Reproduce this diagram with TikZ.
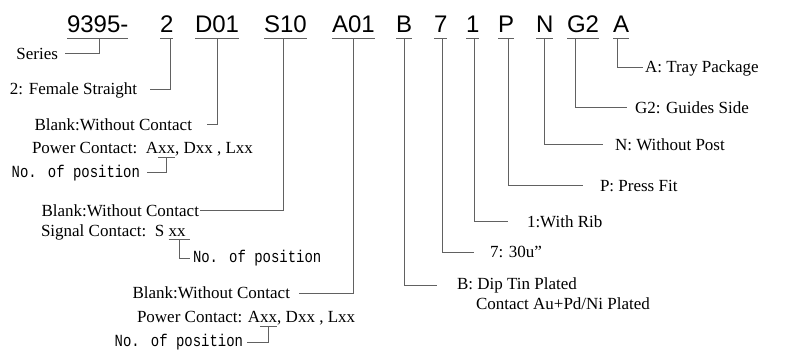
\documentclass[tikz,border=0pt]{standalone}
\usepackage{fontspec}
\usepackage{graphicx}
\setmainfont{Liberation Serif}
\newfontfamily\codefont{Liberation Sans}
\newfontfamily\posfont{Liberation Mono}
\newcommand\nopos{\scalebox{0.82}[1]{\posfont\fontsize{17}{20}\selectfont No. of position}}
\begin{document}
\begin{tikzpicture}[x=1pt,y=-1pt,
  code/.style={font=\codefont\fontsize{24}{28}\selectfont, anchor=base west, inner sep=0pt, outer sep=0pt},
  lbl/.style={font=\fontsize{17}{20}\selectfont, inner sep=0pt, outer sep=0pt},
  conn/.style={draw=black!62, line width=1pt},
  uline/.style={draw=black!62, line width=1pt}]
\useasboundingbox (0,0) rectangle (787,358);
% codes
\node[code] (c1) at (67,33) {9395-};
\node[code] (c2) at (160,33) {2};
\node[code] (c3) at (195,33) {D01};
\node[code] (c4) at (264,33) {S10};
\node[code] (c5) at (332,33) {A01};
\node[code] (c6) at (396,33) {B};
\node[code] (c7) at (434,33) {7};
\node[code] (c8) at (466,33) {1};
\node[code] (c9) at (498,33) {P};
\node[code] (c10) at (536,33) {N};
\node[code] (c11) at (567,33) {G2};
\node[code] (c12) at (613,33) {A};
\foreach \c in {c1,c2,c3,c4,c5,c6,c7,c8,c9,c10,c11,c12}
  \draw[uline] ([yshift=-6pt]\c.base west) -- ([yshift=-6pt]\c.base east);
% tap points on the underlines
\coordinate (t1) at (99,39);
\coordinate (t2) at (170,39);
\coordinate (t3) at (217,39);
\coordinate (t4) at (283,39);
\coordinate (t5) at (353,39);
\coordinate (t6) at (404,39);
\coordinate (t7) at (442,39);
\coordinate (t8) at (474,39);
\coordinate (t9) at (508,39);
\coordinate (t10) at (544,39);
\coordinate (t11) at (575,39);
\coordinate (t12) at (617,39);
% left-side labels
\node[lbl, anchor=east] (series) at (58,54) {Series};
\node[lbl, anchor=east] (fem) at (137,90) {2: Female Straight};
\node[lbl, anchor=east] (blank1) at (192,125) {Blank:Without Contact};
\node[lbl, anchor=west] (pw1a) at (32,148) {Power Contact:\ \ A};
\node[lbl, anchor=base west] (xx1) at (pw1a.base east) {xx};
\node[lbl, anchor=base west] (pw1b) at (xx1.base east) {, Dxx , Lxx};
\node[lbl, anchor=east] (pos1) at (140,173) {\nopos};
\node[lbl, anchor=east] (blank2) at (199,211) {Blank:Without Contact};
\node[lbl, anchor=west] (sig) at (41,232) {Signal Contact:\ \ S};
\node[lbl, anchor=base west] (xx2) at ([xshift=4.25pt]sig.base east) {xx};
\node[lbl, anchor=west] (pos2) at (193,258) {\nopos};
\node[lbl, anchor=east] (blank3) at (290,293) {Blank:Without Contact};
\node[lbl, anchor=west] (pw3a) at (137,317) {Power Contact: A};
\node[lbl, anchor=base west] (xx3) at (pw3a.base east) {xx};
\node[lbl, anchor=base west] (pw3b) at (xx3.base east) {, Dxx , Lxx};
\node[lbl, anchor=east] (pos3) at (243,342) {\nopos};
% right-side labels
\node[lbl, anchor=west] (lB) at (457,285) {B: Dip Tin Plated};
\node[lbl, anchor=base west] (lB2) at ([xshift=19pt,yshift=-20pt]lB.base west) {Contact Au+Pd/Ni Plated};
\node[lbl, anchor=west] (l7) at (490,252) {7: 30u\symbol{34}};
\node[lbl, anchor=west] (l1) at (527,222) {1:With Rib};
\node[lbl, anchor=west] (lP) at (600,186) {P: Press Fit};
\node[lbl, anchor=west] (lN) at (615,145) {N: Without Post};
\node[lbl, anchor=west] (lG) at (635,108) {G2: Guides Side};
\node[lbl, anchor=west] (lA) at (645,68) {A: Tray Package};
% connectors
\draw[conn] (t1) |- ([xshift=7pt]series.east);
\draw[conn] (t2) |- ([xshift=13pt]fem.east);
\draw[conn] (t3) |- ([xshift=15pt]blank1.east);
\draw[conn] (t4) |- ([xshift=1pt]blank2.east);
\draw[conn] (t5) |- ([xshift=9pt]blank3.east);
\draw[conn] (t6) |- ([xshift=-20pt]lB.west);
\draw[conn] (t7) |- ([xshift=-16pt]l7.west);
\draw[conn] (t8) |- ([xshift=-19pt]l1.west);
\draw[conn] (t9) |- ([xshift=-17pt]lP.west);
\draw[conn] (t10) |- ([xshift=-12pt]lN.west);
\draw[conn] (t11) |- ([xshift=-8pt]lG.west);
\draw[conn] (t12) |- ([xshift=-2pt]lA.west);
% sub-field underlines and connectors
\draw[conn] ([yshift=-3.5pt]xx1.base west) -- ([yshift=-3.5pt]xx1.base east);
\draw[conn] ([yshift=-3.5pt]xx1.base) |- ([xshift=7pt]pos1.east);
\draw[conn] ([yshift=-3.5pt]xx2.base west) -- ([xshift=4pt,yshift=-3.5pt]xx2.base east);
\draw[conn] ([xshift=2pt,yshift=-3.5pt]xx2.base) |- ([xshift=-3pt]pos2.west);
\draw[conn] ([yshift=-3.5pt]xx3.base west) -- ([yshift=-3.5pt]xx3.base east);
\draw[conn] ([yshift=-3.5pt]xx3.base) |- ([xshift=4pt]pos3.east);
\end{tikzpicture}
\end{document}
